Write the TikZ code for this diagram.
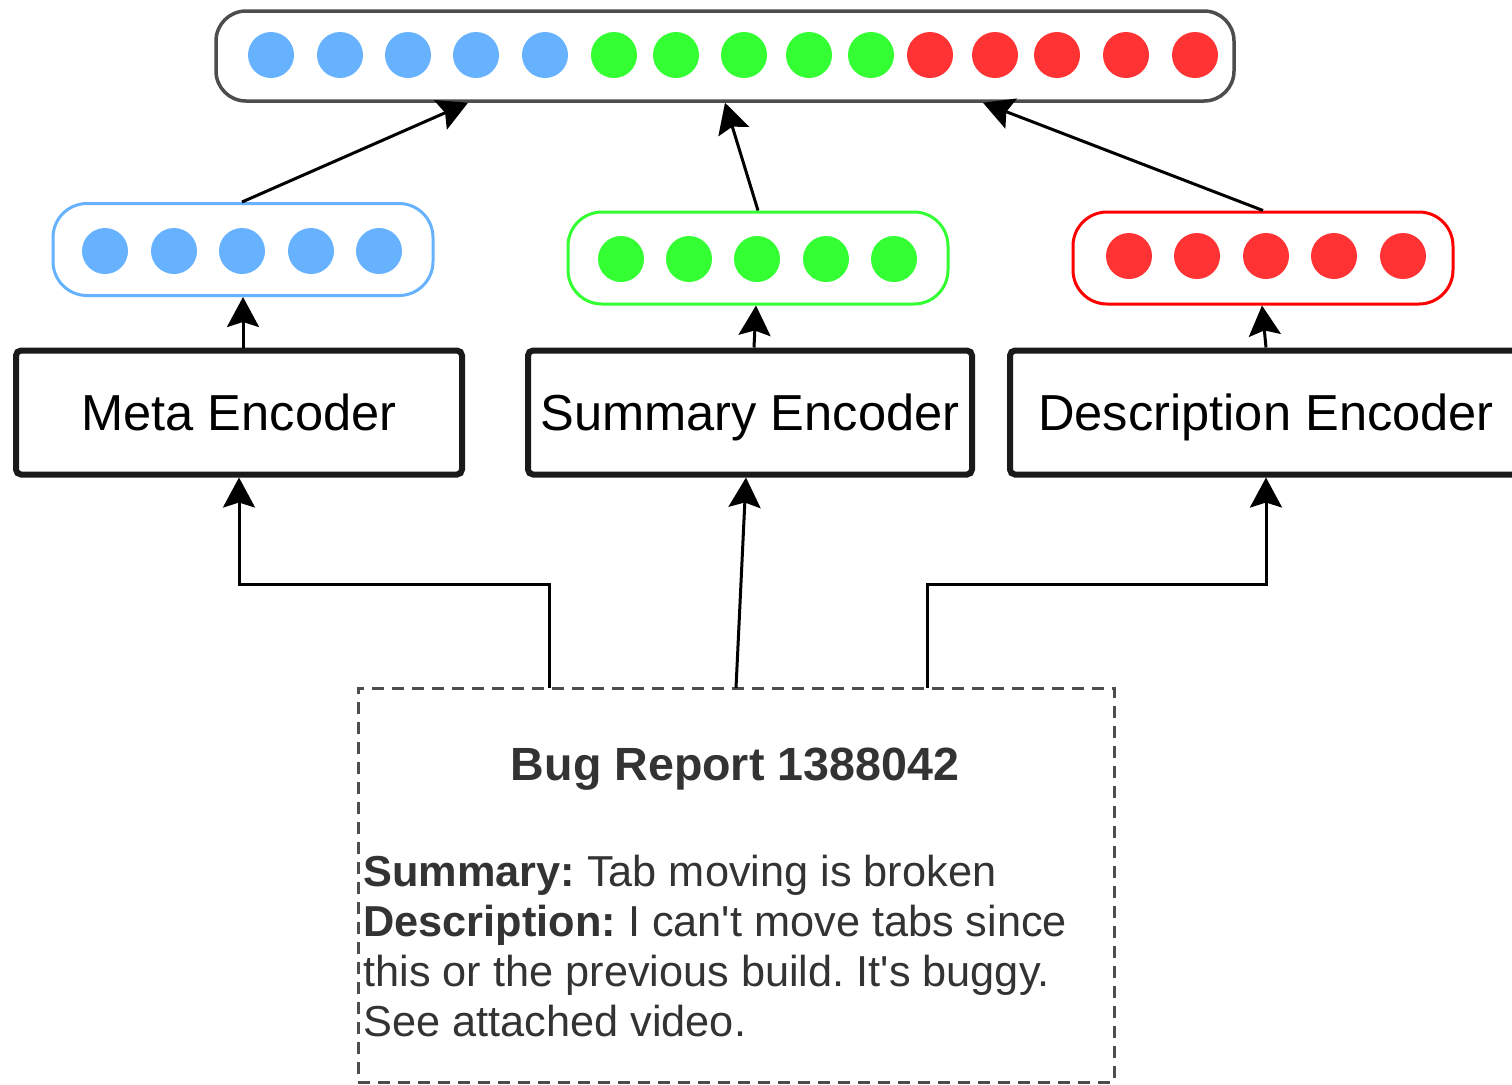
\documentclass[tikz,border=0pt]{standalone}
\usepackage{fontspec}
\setmainfont{Liberation Sans}
\usetikzlibrary{arrows.meta}
\definecolor{vblue}{HTML}{66B2FF}
\definecolor{vgreen}{HTML}{33FF33}
\definecolor{vred}{HTML}{FF3333}
\definecolor{vredline}{HTML}{FF0000}
\definecolor{barline}{HTML}{4D4D4D}
\definecolor{ink}{HTML}{1A1A1A}
\definecolor{txt}{HTML}{333333}
\frenchspacing
\begin{document}
\begin{tikzpicture}[x=0.5pt,y=-0.5pt,
  vec/.style={draw, line width=1.5pt, rounded corners=17pt, minimum width=190pt,
    minimum height=46pt, inner sep=0pt},
  enc/.style={draw=ink, line width=3pt, rounded corners=2.5pt, minimum height=62pt,
    inner sep=0pt, font=\fontsize{25.3}{30}\selectfont, text height=18.1pt, text depth=0pt},
  arr/.style={line width=1.5pt, -{Stealth[length=15pt,width=16pt,inset=2.5pt]}},
  body/.style={anchor=base west, inner sep=0pt, text=txt, font=\fontsize{21.65}{25}\selectfont}
]
\useasboundingbox (0,0) rectangle (1512,1084);

% concatenated vector
\node[draw=barline, line width=1.75pt, rounded corners=15pt, minimum width=509pt,
  minimum height=45pt, inner sep=0pt] (top) at (725,56) {};
\foreach \x in {271,340,408,476,545} \fill[vblue] (\x,55) circle[radius=23];
\foreach \x in {614,676,744,809,871} \fill[vgreen] (\x,55) circle[radius=23];
\foreach \x in {930,995,1057,1126,1195} \fill[vred] (\x,55) circle[radius=23];

% per-field vectors
\node[vec, draw=vblue] (vm) at (243,249.5) {};
\foreach \x in {105,174,242,311,379} \fill[vblue] (\x,251) circle[radius=23];
\node[vec, draw=vgreen] (vs) at (758,258) {};
\foreach \x in {621,689,757,826,894} \fill[vgreen] (\x,259) circle[radius=23];
\node[vec, draw=vredline] (vd) at (1263,258) {};
\foreach \x in {1129,1197,1266,1334,1403} \fill[vred] (\x,256) circle[radius=23];

% encoders
\node[enc, minimum width=223pt] (meta) at (239,412.5) {Meta Encoder};
\node[enc, minimum width=222pt] (sum) at (750,412.5) {Summary Encoder};
\node[enc, minimum width=256pt] (desc) at (1266,412.5) {Description Encoder};

% bug report
\node[draw=barline, line width=1.5pt, dash pattern=on 6pt off 4pt, minimum width=378pt,
  minimum height=197pt, inner sep=0pt] (report) at (736,885) {};
\node[anchor=base, inner sep=0pt, text=txt, font=\bfseries\fontsize{23.3}{28}\selectfont]
  (title) at (735,780) {Bug Report 1388042};
\node[body] (l1) at (363,886) {\textbf{Summary:} Tab moving is broken};
\node[body] (l2) at (363,936) {\textbf{Description:} I can\textquotesingle t move tabs since};
\node[body] (l3) at (363,986) {this or the previous build. It\textquotesingle s buggy.};
\node[body] (l4) at (363,1036) {See attached video.};

% connectors: report -> encoders
\coordinate (ra) at (549,688);
\coordinate (rb) at (736,688);
\coordinate (rc) at (927,688);
\draw[arr] (ra) -- (ra |- 0,584) -| (meta.south);
\draw[arr] (rb) -- ([xshift=-2pt]sum.south);
\draw[arr] (rc) -- (rc |- 0,584) -| (desc.south);

% encoders -> field vectors
\draw[arr] (vm.south |- meta.north) -- (vm.south);
\draw[arr] ([xshift=2pt]sum.north) -- ([xshift=-1pt]vs.south);
\draw[arr] (desc.north) -- ([xshift=-0.5pt]vd.south);

% field vectors -> concatenated vector
\draw[arr] ([xshift=-0.5pt]vm.north) -- ([xshift=-128.5pt]top.south);
\draw[arr] (vs.north) -- (top.south);
\draw[arr] (vd.north) -- ([xshift=129pt]top.south);
\end{tikzpicture}
\end{document}
